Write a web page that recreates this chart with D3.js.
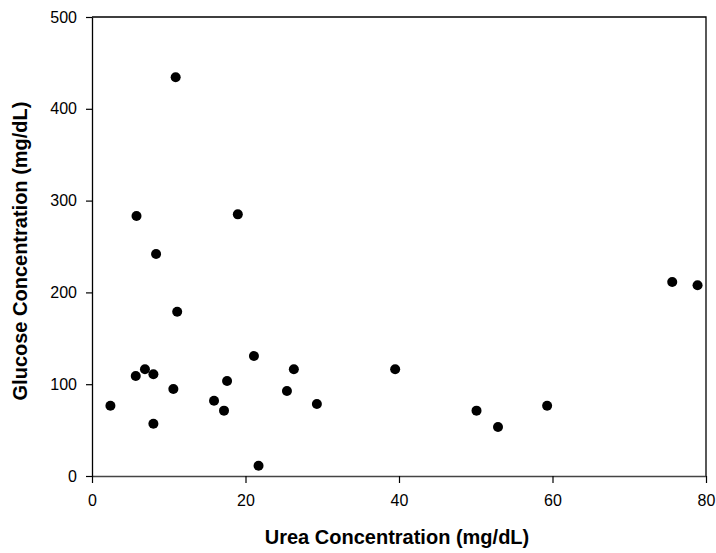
<!DOCTYPE html>
<html>
<head>
<meta charset="utf-8">
<script src="https://cdn.jsdelivr.net/npm/d3@7"></script>
<style>
    body { margin: 0; background: #fff; }
    svg { display: block; }
    .tick text { font-family: "Liberation Sans", Arial, sans-serif; font-size: 16px; fill: #000; }
    .title { font-family: "Liberation Sans", Arial, sans-serif; font-size: 20px; font-weight: bold; }
</style>
</head>
<body>
<svg width="716" height="553"></svg>
<script>
// urea (x) and glucose (y)
let urea = [2.4, 5.7, 5.8, 6.9, 8.0, 8.0, 8.35, 10.6, 10.9, 11.1, 15.9, 17.2, 17.6,
    19.0, 21.1, 21.7, 25.4, 26.3, 29.3, 39.5, 50.1, 52.9, 59.3, 75.6, 78.9];
let glucose = [76.6, 108.9, 283.2, 116.2, 110.8, 57, 241.8, 94.8, 434.3, 179, 82, 71.2, 103.5,
    285, 130.7, 11.2, 92.6, 116.2, 78.4, 116.2, 71.2, 53.4, 76.6, 211.3, 207.7];
let xTicks = [0, 20, 40, 60, 80];
let yTicks = [0, 100, 200, 300, 400, 500];

function draw() {
    let svg = d3.select("svg");
    let left = 92, right = 706, top = 17, bottom = 476;

    let x = d3.scaleLinear().domain([0, 80]).range([left, right]);
    let y = d3.scaleLinear().domain([0, 500]).range([bottom, top]);

    // frame top + right
    svg.append("path")
        .attr("d", `M${left},${top}H${right}V${bottom}`)
        .attr("fill", "none")
        .attr("stroke", "#000")
        .attr("stroke-width", 1.3);

    let xAxis = svg.append("g")
        .attr("transform", `translate(0,${bottom})`)
        .call(d3.axisBottom(x).tickValues(xTicks).tickSize(7).tickPadding(12).tickSizeOuter(0));
    xAxis.select(".domain").attr("stroke", "#444").attr("stroke-width", 1.6);
    xAxis.selectAll(".tick line").attr("stroke", "#000").attr("stroke-width", 1.2);

    let yAxis = svg.append("g")
        .attr("transform", `translate(${left},0)`)
        .call(d3.axisLeft(y).tickValues(yTicks).tickSize(6).tickPadding(9).tickSizeOuter(0));
    yAxis.select(".domain").attr("stroke", "#000").attr("stroke-width", 1.3);
    yAxis.selectAll(".tick line").attr("stroke", "#000").attr("stroke-width", 1.2);

    svg.append("g").selectAll("circle")
        .data(urea.map((u, i) => [u, glucose[i]]))
        .enter()
        .append("circle")
        .attr("cx", ([u]) => x(u))
        .attr("cy", ([, g]) => y(g))
        .attr("r", 5)
        .attr("fill", "#000");

    svg.append("text")
        .attr("class", "title")
        .attr("x", 397)
        .attr("y", 544)
        .attr("text-anchor", "middle")
        .text("Urea Concentration (mg/dL)");

    svg.append("text")
        .attr("class", "title")
        .attr("transform", "translate(27,251) rotate(-90)")
        .attr("text-anchor", "middle")
        .text("Glucose Concentration (mg/dL)");
}

draw();
</script>
</body>
</html>
